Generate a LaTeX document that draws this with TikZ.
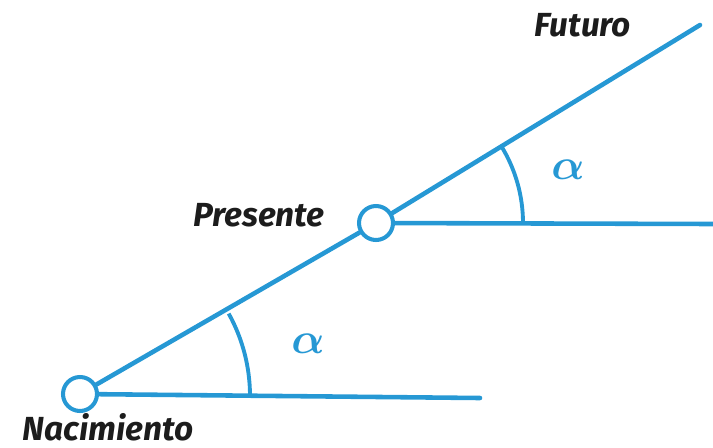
\documentclass[tikz,border=0pt]{standalone}
\usepackage{fontspec}
\setmainfont{Fira Sans}
\usepackage{tikz}
\usetikzlibrary{positioning, calc}
\definecolor{timeblue}{RGB}{38,152,212}
\definecolor{inkblack}{RGB}{28,28,28}

\begin{document}
\begin{tikzpicture}[x=0.02cm, y=-0.02cm]
        \tikzstyle{event} = [circle, draw=timeblue, line width=2.3pt, fill=white, minimum size=0.68cm, inner sep=0pt]
        \tikzstyle{timeline} = [draw=timeblue, line width=2.6pt, line cap=round]
        \tikzstyle{anglearc} = [draw=timeblue, line width=2.2pt]
        \tikzstyle{tag} = [text=inkblack, font=\fontsize{19}{22}\selectfont\bfseries\itshape]
        \tikzstyle{angletag} = [text=timeblue, font=\fontsize{38}{40}\selectfont\boldmath]

        \useasboundingbox (0,0) rectangle (713,447);

        \node [event] (nac) at (80,394) {};
        \node [event] (pre) at (376,223) {};
        \coordinate (fut) at (700,25);
        \coordinate (nacend) at (480,398);
        \coordinate (preend) at (713,224);

        \draw [timeline] (nac) -- (pre);
        \draw [timeline] (pre) -- (fut);
        \draw [timeline] (nac) -- (nacend);
        \draw [timeline] (pre) -- (preend);

        % angle marks
        \draw [anglearc] ($(nac)+(170,2)$) arc [start angle=0, end angle=29, radius=3.4cm];
        \draw [anglearc] ($(pre)+(147,0)$) arc [start angle=0, end angle=31, radius=2.94cm];
        \node [angletag] (a1) at (308,344) {$\alpha$};
        \node [angletag] (a2) at (568,170) {$\alpha$};

        \node [tag] (tnac) at (108,427) {Nacimiento};
        \node [tag] (tpre) at (259,215) {Presente};
        \node [tag] (tfut) at (583,25) {Futuro};
    \end{tikzpicture}
\end{document}
